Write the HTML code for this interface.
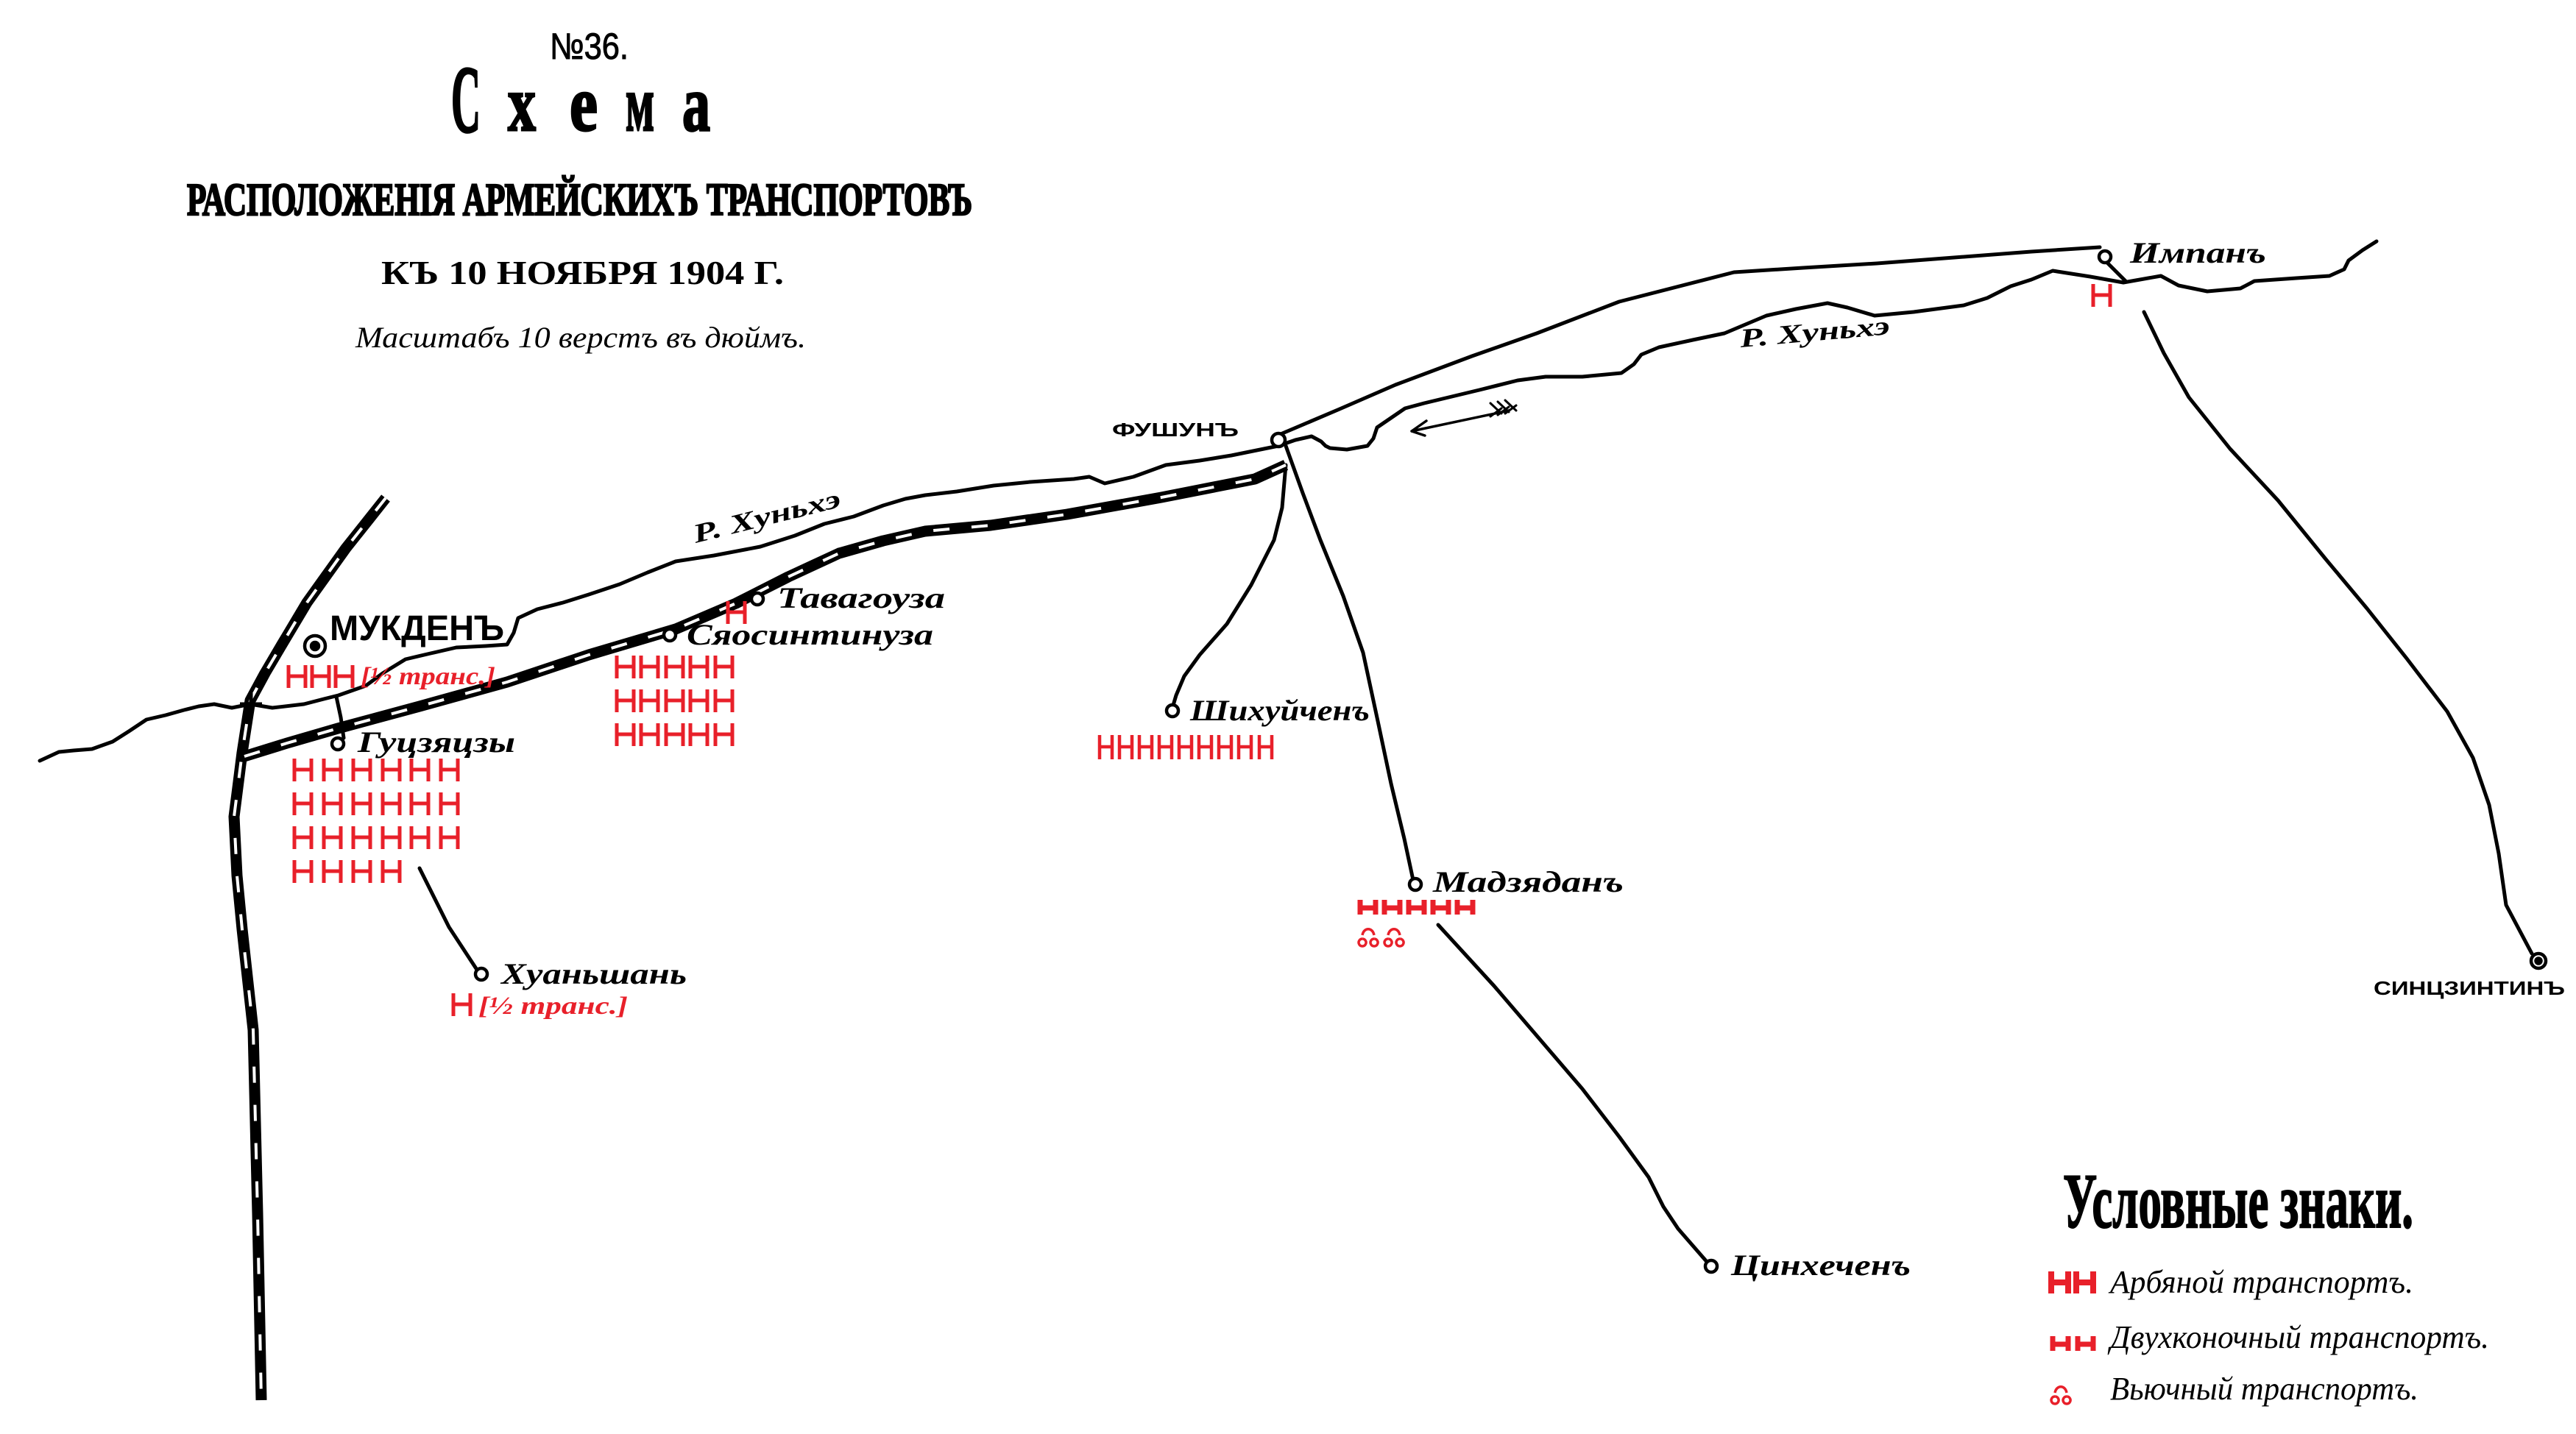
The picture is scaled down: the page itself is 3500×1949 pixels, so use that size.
<!DOCTYPE html>
<html><head><meta charset="utf-8"><style>
html,body{margin:0;padding:0;background:#fff}
svg{display:block}
.s{font-family:"Liberation Serif",serif}
.i{font-family:"Liberation Serif",serif;font-style:italic;font-weight:bold}
.b{font-family:"Liberation Sans",sans-serif;font-weight:bold}
</style></head><body>
<svg width="3500" height="1949" viewBox="0 0 3500 1949" xmlns="http://www.w3.org/2000/svg">
<defs>
<path id="H" d="M2 0V31M25 0V31M2 15H25" stroke="#e8202a" stroke-width="5" fill="none"/>
<path id="H2" d="M2 0V33M19 0V33M2 16H19" stroke="#e8202a" stroke-width="4.5" fill="none"/>
<path id="HL" d="M3 0V30M26 0V30M3 15H26" stroke="#e8202a" stroke-width="8" fill="none"/>
<path id="D" d="M3 0V20M24 0V20M3 11H24" stroke="#e8202a" stroke-width="7" fill="none"/>
<path id="P" d="M6 14a5 5 0 1 0 0.1 0M22 14a5 5 0 1 0 0.1 0M6 9C8 -2 20 -2 22 9" stroke="#e8202a" stroke-width="3.5" fill="none"/>
</defs>
<!-- Title -->
<text class="b" x="747" y="80" font-size="50" textLength="107" lengthAdjust="spacingAndGlyphs" style="font-weight:normal" stroke="#000" stroke-width="1">№36.</text>
<g class="s" font-weight="bold" font-size="108" stroke="#000" stroke-width="3">
<text x="613" y="179" textLength="40" lengthAdjust="spacingAndGlyphs" font-size="130">С</text>
<text x="690" y="177" textLength="38" lengthAdjust="spacingAndGlyphs">х</text>
<text x="774" y="177" textLength="38" lengthAdjust="spacingAndGlyphs">е</text>
<text x="850" y="177" textLength="39" lengthAdjust="spacingAndGlyphs">м</text>
<text x="927" y="177" textLength="38" lengthAdjust="spacingAndGlyphs">а</text>
</g>
<text class="s" font-weight="bold" x="254" y="292" font-size="62" textLength="1067" lengthAdjust="spacingAndGlyphs" stroke="#000" stroke-width="2.5">РАСПОЛОЖЕНІЯ АРМЕЙСКИХЪ ТРАНСПОРТОВЪ</text>
<text class="s" font-weight="bold" x="518" y="386" font-size="46" textLength="547" lengthAdjust="spacingAndGlyphs">КЪ 10 НОЯБРЯ 1904 Г.</text>
<text class="s" font-style="italic" x="483" y="472" font-size="40" textLength="612" lengthAdjust="spacingAndGlyphs">Масштабъ 10 верстъ въ дюймъ.</text>

<!-- Rivers -->
<g fill="none" stroke="#000" stroke-width="5" stroke-linejoin="round" stroke-linecap="round">
<polyline points="54,1034 80,1022 100,1020 125,1018 153,1008 175,994 199,978 225,972 250,965 270,960 291,957 315,962 340,957 370,962 413,957 440,950 460,945 497,932 520,915 551,896 585,888 620,880 660,878 689,876 698,860 704,840 730,828 765,819 800,808 842,794 880,778 918,763 970,755 1033,743 1080,728 1120,712 1160,702 1200,687 1230,678 1257,673 1300,668 1350,660 1400,655 1459,651 1480,648 1501,657 1540,648 1584,632 1630,626 1673,619 1737,606 1760,598 1782,593 1795,600 1801,606 1807,609 1830,611 1858,606 1866,596 1871,581 1890,568 1909,555 1935,548 1960,542 2010,530 2062,517 2100,512 2150,512 2203,507 2220,495 2230,482 2254,472 2300,462 2343,453 2400,429 2440,420 2483,412 2510,418 2547,429 2600,424 2668,415 2700,405 2732,389 2760,380 2789,368 2840,376 2885,384 2936,375 2960,388 2999,396 3044,392 3063,382 3120,378 3165,375 3185,366 3191,354 3210,340 3229,328"/>
<polyline points="1740,590 1820,556 1896,523 2000,484 2088,453 2200,410 2356,370 2450,364 2550,358 2655,350 2760,342 2853,336"/>
<path d="M2862,356 L2888,382"/>
<polyline points="1747,632 1742,690 1731,734 1700,795 1667,848 1630,890 1609,919 1598,945 1593,962"/>
<polyline points="1747,606 1770,670 1794,734 1825,810 1852,887 1872,980 1890,1065 1908,1140 1920,1196"/>
<polyline points="1954,1257 2030,1340 2090,1410 2150,1480 2200,1545 2240,1600 2260,1640 2280,1670 2320,1716"/>
<polyline points="2913,424 2940,480 2974,540 3030,610 3095,680 3160,760 3216,827 3270,895 3325,967 3360,1030 3382,1094 3395,1160 3405,1230 3440,1296"/>
<polyline points="457,947 463,975 467,1003"/>
<polyline points="570,1180 610,1260 648,1318"/>
<path d="M2050,558 L1918,586 M1918,586 L1938,572 M1918,586 L1936,592" stroke-width="3.5"/>
<path d="M2025,548 L2040,562 M2035,546 L2050,560 M2045,544 L2060,558 M2025,566 L2040,555 M2035,564 L2050,553 M2045,562 L2060,551" stroke-width="3"/>
</g>

<!-- Railway -->
<g fill="none" stroke-linejoin="round" stroke-linecap="butt">
<polyline stroke="#000" stroke-width="15" points="524,677 470,745 417,819 383,876 360,915 340,952 329,1023 318,1110 322,1190 329,1263 344,1400 350,1650 355,1903"/>
<polyline stroke="#fff" stroke-width="4" stroke-dasharray="22 30" points="524,677 470,745 417,819 383,876 360,915 340,952 329,1023 318,1110 322,1190 329,1263 344,1400 350,1650 355,1903"/>
<polyline stroke="#000" stroke-width="15" points="332,1028 390,1010 459,990 570,960 689,927 800,890 918,855 1000,820 1071,784 1140,752 1200,735 1257,722 1346,714 1450,699 1578,676 1705,651 1747,632"/>
<polyline stroke="#fff" stroke-width="4" stroke-dasharray="22 30" points="332,1028 390,1010 459,990 570,960 689,927 800,890 918,855 1000,820 1071,784 1140,752 1200,735 1257,722 1346,714 1450,699 1578,676 1705,651 1747,632"/>
<path d="M326,957 L356,957 M341,942 L341,972" stroke="#000" stroke-width="5"/>
</g>

<!-- Stations -->
<g fill="#fff" stroke="#000" stroke-width="4.5">
<circle cx="428" cy="878" r="14"/><circle cx="428" cy="878" r="5" fill="#000"/>
<circle cx="459" cy="1011" r="8"/>
<circle cx="654" cy="1324" r="8"/>
<circle cx="910" cy="863" r="8"/>
<circle cx="1029" cy="814" r="8"/>
<circle cx="1593" cy="966" r="8"/>
<circle cx="1923" cy="1202" r="8"/>
<circle cx="2325" cy="1721" r="8"/>
<circle cx="1737" cy="598" r="9"/>
<circle cx="2860" cy="349" r="8"/>
<circle cx="3449" cy="1306" r="10"/><circle cx="3449" cy="1306" r="3.5" fill="#000"/>
</g>

<!-- Labels -->
<text class="b" x="448" y="870" font-size="48" textLength="237" lengthAdjust="spacingAndGlyphs">МУКДЕНЪ</text>
<text class="b" x="1511" y="593" font-size="26" textLength="172" lengthAdjust="spacingAndGlyphs">ФУШУНЪ</text>
<text class="b" x="3225" y="1352" font-size="26" textLength="260" lengthAdjust="spacingAndGlyphs">СИНЦЗИНТИНЪ</text>
<g class="i" font-size="40">
<text x="486" y="1022" textLength="214" lengthAdjust="spacingAndGlyphs">Гуцзяцзы</text>
<text x="681" y="1337" textLength="252" lengthAdjust="spacingAndGlyphs">Хуаньшань</text>
<text x="933" y="876" textLength="335" lengthAdjust="spacingAndGlyphs">Сяосинтинуза</text>
<text x="1056" y="826" textLength="228" lengthAdjust="spacingAndGlyphs">Тавагоуза</text>
<text x="1617" y="979" textLength="244" lengthAdjust="spacingAndGlyphs">Шихуйченъ</text>
<text x="1947" y="1212" textLength="259" lengthAdjust="spacingAndGlyphs">Мадзяданъ</text>
<text x="2352" y="1733" textLength="244" lengthAdjust="spacingAndGlyphs">Цинхеченъ</text>
<text x="2894" y="357" textLength="185" lengthAdjust="spacingAndGlyphs">Импанъ</text>
<text x="945" y="738" font-size="36" textLength="205" lengthAdjust="spacingAndGlyphs" transform="rotate(-14 945 738)">Р. Хуньхэ</text>
<text x="2365" y="472" font-size="36" textLength="204" lengthAdjust="spacingAndGlyphs" transform="rotate(-5 2365 472)">Р. Хуньхэ</text>
</g>
<g class="i" font-size="34" fill="#e8202a">
<text x="490" y="930" textLength="183" lengthAdjust="spacingAndGlyphs">[½ транс.]</text>
<text x="650" y="1378" textLength="203" lengthAdjust="spacingAndGlyphs">[½ транс.]</text>
</g>

<!-- Red H grids -->
<g>
<use href="#H" x="390" y="904"/><use href="#H" x="422" y="904"/><use href="#H" x="454" y="904"/>
<use href="#H" x="987" y="817"/>
<use href="#H" x="614" y="1350"/>
<use href="#H" x="2842" y="386"/>
<use href="#H" x="398" y="1031"/><use href="#H" x="438" y="1031"/><use href="#H" x="478" y="1031"/><use href="#H" x="518" y="1031"/><use href="#H" x="557" y="1031"/><use href="#H" x="597" y="1031"/>
<use href="#H" x="398" y="1077"/><use href="#H" x="438" y="1077"/><use href="#H" x="478" y="1077"/><use href="#H" x="518" y="1077"/><use href="#H" x="557" y="1077"/><use href="#H" x="597" y="1077"/>
<use href="#H" x="398" y="1123"/><use href="#H" x="438" y="1123"/><use href="#H" x="478" y="1123"/><use href="#H" x="518" y="1123"/><use href="#H" x="557" y="1123"/><use href="#H" x="597" y="1123"/>
<use href="#H" x="398" y="1169"/><use href="#H" x="438" y="1169"/><use href="#H" x="478" y="1169"/><use href="#H" x="518" y="1169"/>
<use href="#H" x="836" y="891"/><use href="#H" x="869" y="891"/><use href="#H" x="903" y="891"/><use href="#H" x="936" y="891"/><use href="#H" x="970" y="891"/>
<use href="#H" x="836" y="937"/><use href="#H" x="869" y="937"/><use href="#H" x="903" y="937"/><use href="#H" x="936" y="937"/><use href="#H" x="970" y="937"/>
<use href="#H" x="836" y="983"/><use href="#H" x="869" y="983"/><use href="#H" x="903" y="983"/><use href="#H" x="936" y="983"/><use href="#H" x="970" y="983"/>
<use href="#H2" x="1492" y="999"/><use href="#H2" x="1519" y="999"/><use href="#H2" x="1546" y="999"/><use href="#H2" x="1573" y="999"/><use href="#H2" x="1600" y="999"/><use href="#H2" x="1627" y="999"/><use href="#H2" x="1654" y="999"/><use href="#H2" x="1681" y="999"/><use href="#H2" x="1709" y="999"/>
<use href="#D" x="1845" y="1223"/><use href="#D" x="1878" y="1223"/><use href="#D" x="1911" y="1223"/><use href="#D" x="1944" y="1223"/><use href="#D" x="1977" y="1223"/>
<use href="#P" x="1845" y="1262"/><use href="#P" x="1880" y="1262"/>
</g>

<!-- Legend -->
<text class="s" font-weight="bold" x="2803" y="1668" font-size="106" textLength="476" lengthAdjust="spacingAndGlyphs" stroke="#000" stroke-width="2">Условные знаки.</text>
<use href="#HL" x="2784" y="1728"/><use href="#HL" x="2818" y="1728"/>
<use href="#D" x="2786" y="1816"/><use href="#D" x="2820" y="1816"/>
<use href="#P" x="2786" y="1884"/>
<g class="s" font-style="italic" font-size="44">
<text x="2867" y="1757" textLength="412" lengthAdjust="spacingAndGlyphs">Арбяной транспортъ.</text>
<text x="2867" y="1832" textLength="515" lengthAdjust="spacingAndGlyphs">Двухконочный транспортъ.</text>
<text x="2867" y="1902" textLength="419" lengthAdjust="spacingAndGlyphs">Вьючный транспортъ.</text>
</g>
</svg>
</body></html>
